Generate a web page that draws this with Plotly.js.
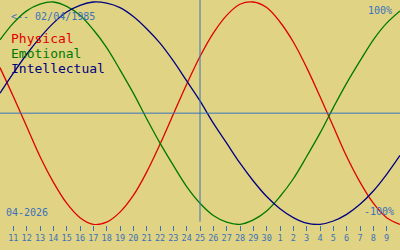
<!DOCTYPE html>
<html>
<head>
<meta charset="utf-8">
<script src="https://cdn.plot.ly/plotly-3.0.1.min.js"></script>
<style>html,body{margin:0;padding:0;background:#e0d384;}#chart{width:400px;height:250px;}</style>
</head>
<body>
<div id="chart"></div>
<script>
// Day positions (index) from -1 to 29; labels for indexes 0..28
const dayLabels = ['11','12','13','14','15','16','17','18','19','20','21','22','23','24','25','26','27','28','29','30','1','2','3','4','5','6','7','8','9'];
const dayIndex = [-1,0,1,2,3,4,5,6,7,8,9,10,11,12,13,14,15,16,17,18,19,20,21,22,23,24,25,26,27,28,29];

const physical = [0.41,0.15,-0.12,-0.39,-0.62,-0.81,-0.94,-1.00,-0.98,-0.89,-0.74,-0.53,-0.28,-0.01,0.26,0.51,0.72,0.88,0.98,1.00,0.95,0.82,0.64,0.41,0.15,-0.12,-0.39,-0.62,-0.81,-0.94,-1.00];
const emotional = [0.66,0.81,0.92,0.98,1.00,0.96,0.88,0.75,0.59,0.39,0.18,-0.05,-0.27,-0.47,-0.66,-0.81,-0.92,-0.98,-1.00,-0.96,-0.88,-0.75,-0.59,-0.39,-0.18,0.05,0.27,0.47,0.66,0.81,0.92];
const intellectual = [0.18,0.36,0.53,0.68,0.81,0.91,0.97,1.00,0.99,0.95,0.87,0.76,0.63,0.47,0.29,0.11,-0.09,-0.27,-0.45,-0.61,-0.75,-0.86,-0.94,-0.99,-1.00,-0.97,-0.91,-0.82,-0.70,-0.55,-0.38];

const todayIndex = 14; // day 25
const birthText = '<-- 02/04/1985';
const monthText = '04-2026';
const seriesNames = ['Physical','Emotional','Intellectual'];
const seriesColors = ['#e00000','#007800','#000080'];

const axisBlue = '#3a72ba';
const mono = 'DejaVu Sans Mono, monospace';
const tickIdx = dayLabels.map((d,i)=>i);

const traces = [physical, emotional, intellectual].map((ys,k)=>({
  x: dayIndex, y: ys, type:'scatter', mode:'lines',
  line:{color:seriesColors[k], width:1.3, shape:'spline', smoothing:1},
  hoverinfo:'skip', name: seriesNames[k]
}));

const H = 225; // plot height in px
function py(p){ return 1 - p/H; }

const annotations = [
  {text: birthText, x: 9/400, y: py(16.5), xanchor:'left', yanchor:'middle', font:{size:10, color:axisBlue, family:mono}},
  {text: seriesNames[0], x: 9/400, y: py(38.5), xanchor:'left', yanchor:'middle', font:{size:13, color:seriesColors[0], family:mono}},
  {text: seriesNames[1], x: 9/400, y: py(53.5), xanchor:'left', yanchor:'middle', font:{size:13, color:seriesColors[1], family:mono}},
  {text: seriesNames[2], x: 9/400, y: py(68.5), xanchor:'left', yanchor:'middle', font:{size:13, color:seriesColors[2], family:mono}},
  {text: '100%', x: 394/400, y: py(11), xanchor:'right', yanchor:'middle', font:{size:10, color:axisBlue, family:mono}},
  {text: '-100%', x: 396/400, y: py(211), xanchor:'right', yanchor:'middle', font:{size:10, color:axisBlue, family:mono}},
  {text: monthText, x: 4/400, y: py(212), xanchor:'left', yanchor:'middle', font:{size:10, color:axisBlue, family:mono}}
].map(a=>Object.assign({xref:'paper', yref:'paper', showarrow:false}, a));

const layout = {
  width:400, height:250,
  margin:{l:0, r:0, t:0, b:25, pad:0},
  paper_bgcolor:'#e0d384', plot_bgcolor:'#e0d384',
  showlegend:false,
  xaxis:{range:[-1,29], tickmode:'array', tickvals:tickIdx, ticktext:dayLabels,
    tickangle:0, ticks:'outside', ticklen:5, tickwidth:1, tickcolor:axisBlue,
    showgrid:false, zeroline:false, showline:false, fixedrange:true,
    tickfont:{size:8.5, color:axisBlue, family:mono}},
  yaxis:{range:[-1.006, 1.018], visible:false, showgrid:false, zeroline:false, fixedrange:true},
  shapes:[
    {type:'line', xref:'paper', yref:'y', x0:0, x1:1, y0:0, y1:0, line:{color:axisBlue, width:1}},
    {type:'line', xref:'x', yref:'paper', x0:todayIndex, x1:todayIndex, y0:0.015, y1:1, line:{color:axisBlue, width:1}}
  ],
  annotations: annotations
};

Plotly.newPlot('chart', traces, layout, {staticPlot:true, displayModeBar:false});
</script>
</body>
</html>
